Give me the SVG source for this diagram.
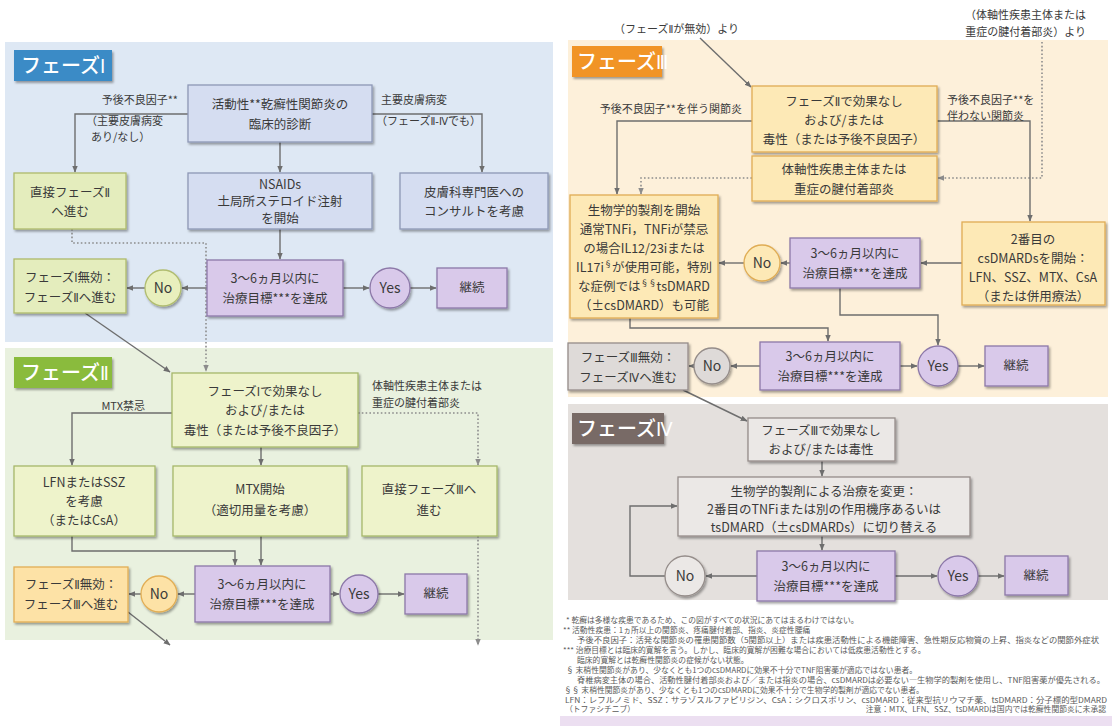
<svg xmlns="http://www.w3.org/2000/svg" width="1112" height="726" viewBox="0 0 1112 726">
<defs>
<style>
text{font-family:"Noto Sans CJK JP","Noto Sans CJK SC",sans-serif;}
.r{font-family:"DejaVu Sans Condensed","DejaVu Sans","Noto Sans CJK JP",sans-serif;}
.bt{font-size:12.5px;fill:#3a3a3a;text-anchor:middle;}
.ct{font-size:14px;fill:#3a3a3a;text-anchor:middle;}
.lb{font-size:11px;fill:#3a3a3a;}
.tab{font-size:20px;fill:#fff;font-weight:500;}
.fn{font-size:7.8px;fill:#5a5a5a;}
.ln{fill:none;stroke:#6e6e6e;stroke-width:1.4;}
.dt{fill:none;stroke:#8c8c8c;stroke-width:1.6;stroke-dasharray:1.6 2.2;}
.bx{stroke-width:1.3;filter:url(#sh);}
.bl{fill:#d5ddf1;stroke:#8e98b6;}
.gr{fill:#e4edbd;stroke:#aebb6c;}
.g2{fill:#eef3cb;stroke:#a7b86a;}
.pu{fill:#d9c9ea;stroke:#8c78a8;}
.or{fill:#fde2a6;stroke:#e2ae55;}
.yl{fill:#fde9b6;stroke:#e0ad55;}
.gy{fill:#dedad8;stroke:#958d8a;}
.g4{fill:#ebe8e6;stroke:#958d8a;}
</style>
<filter id="sh" x="-10%" y="-10%" width="130%" height="140%">
<feDropShadow dx="1.5" dy="2" stdDeviation="1.2" flood-color="#000" flood-opacity="0.35"/>
</filter>
<marker id="a" viewBox="0 0 10 10" refX="9" refY="5" markerWidth="7" markerHeight="7" markerUnits="userSpaceOnUse" orient="auto"><path d="M0,1 L10,5 L0,9 z" fill="#6e6e6e"/></marker>
<marker id="d" viewBox="0 0 10 10" refX="9" refY="5" markerWidth="7" markerHeight="7" markerUnits="userSpaceOnUse" orient="auto"><path d="M0,1 L10,5 L0,9 z" fill="#8c8c8c"/></marker>
</defs>
<rect width="1112" height="726" fill="#ffffff"/>

<!-- panels -->
<g id="panels">
<rect x="5" y="42" width="548" height="300" fill="#dee8f4"/>
<rect x="5" y="348" width="548" height="292" fill="#e9f1df"/>
<rect x="568" y="40" width="540" height="357" fill="#fdf0da"/>
<rect x="568" y="404" width="540" height="196" fill="#e4e0dd"/>
<rect x="560" y="716" width="552" height="10" fill="#ecdff1"/>
</g>

<g id="tabs">
<rect x="14" y="50" width="98" height="31" fill="#3b8bc6" filter="url(#sh)"/>
<text class="tab" x="21" y="73">フェーズ<tspan class="r">Ⅰ</tspan></text>
<rect x="14" y="357" width="98" height="31" fill="#8abb3c" filter="url(#sh)"/>
<text class="tab" x="21" y="380">フェーズ<tspan class="r">Ⅱ</tspan></text>
<rect x="572" y="46" width="90" height="31" fill="#f19428" filter="url(#sh)"/>
<text class="tab" x="577" y="69">フェーズ<tspan class="r">Ⅲ</tspan></text>
<rect x="572" y="413" width="92" height="31" fill="#786a66" filter="url(#sh)"/>
<text class="tab" x="577" y="436">フェーズ<tspan class="r">Ⅳ</tspan></text>
</g>

<!-- connectors -->
<g id="connectors">
<path class="ln" d="M188,114 H75 V172" marker-end="url(#a)"/>
<path class="ln" d="M372,114 H482 V172" marker-end="url(#a)"/>
<path class="ln" d="M280,142 V172" marker-end="url(#a)"/>
<path class="dt" d="M72,229 V243 H206 V371" marker-end="url(#d)"/>
<path class="ln" d="M280,229 V259" marker-end="url(#a)"/>
<path class="ln" d="M207,288 H182" marker-end="url(#a)"/>
<path class="ln" d="M145,288 H127" marker-end="url(#a)"/>
<path class="ln" d="M343,288 H369" marker-end="url(#a)"/>
<path class="ln" d="M410,288 H436" marker-end="url(#a)"/>
<path class="ln" d="M85,313 L170,372" marker-end="url(#a)"/>

<path class="ln" d="M172,413 H72 V465" marker-end="url(#a)"/>
<path class="dt" d="M358,413 H478 V465" marker-end="url(#d)"/>
<path class="ln" d="M261,447 V465" marker-end="url(#a)"/>
<path class="ln" d="M72,536 V551 H235 V565" marker-end="url(#a)"/>
<path class="ln" d="M261,536 V565" marker-end="url(#a)"/>
<path class="ln" d="M195,594 H178" marker-end="url(#a)"/>
<path class="ln" d="M141,594 H129" marker-end="url(#a)"/>
<path class="ln" d="M330,594 H339" marker-end="url(#a)"/>
<path class="ln" d="M378,594 H404" marker-end="url(#a)"/>
<path class="dt" d="M478,536 V645" marker-end="url(#d)"/>
<path class="ln" d="M128,612 L170,645" marker-end="url(#a)"/>

<path class="ln" d="M700,38 L751,87" marker-end="url(#a)"/>
<path class="dt" d="M1042,42 V178 H938" marker-end="url(#d)"/>
<path class="ln" d="M752,121 H617 V194" marker-end="url(#a)"/>
<path class="ln" d="M937,121 H1030 V221" marker-end="url(#a)"/>
<path class="dt" d="M752,178 H641 V194" marker-end="url(#d)"/>
<path class="ln" d="M962,263 H921" marker-end="url(#a)"/>
<path class="ln" d="M790,263 H781" marker-end="url(#a)"/>
<path class="ln" d="M744,263 H719" marker-end="url(#a)"/>
<path class="ln" d="M630,318 V328 H828 V341" marker-end="url(#a)"/>
<path class="ln" d="M840,288 V315 H938 V345" marker-end="url(#a)"/>
<path class="ln" d="M760,366 H731" marker-end="url(#a)"/>
<path class="ln" d="M694,366 H689" marker-end="url(#a)"/>
<path class="ln" d="M900,366 H917" marker-end="url(#a)"/>
<path class="ln" d="M958,366 H984" marker-end="url(#a)"/>

<path class="ln" d="M683,390 L747,421" marker-end="url(#a)"/>
<path class="ln" d="M822,461 V476" marker-end="url(#a)"/>
<path class="ln" d="M822,536 V550" marker-end="url(#a)"/>
<path class="ln" d="M757,576 H706" marker-end="url(#a)"/>
<path class="ln" d="M895,576 H937" marker-end="url(#a)"/>
<path class="ln" d="M978,576 H1004" marker-end="url(#a)"/>
<path class="ln" d="M665,576 H630 V506 H677" marker-end="url(#a)"/>
</g>

<!-- edge labels -->
<g id="labels">
<text class="lb" x="178" y="104" text-anchor="end">予後不良因子**</text>
<text class="lb" x="86" y="125">（主要皮膚病変</text>
<text class="lb" x="91" y="141">あり/なし）</text>
<text class="lb" x="381" y="104">主要皮膚病変</text>
<text class="lb" x="376" y="125">（フェーズ<tspan class="r">Ⅱ-Ⅳ</tspan>でも）</text>
<text class="lb" x="145" y="410" text-anchor="end">MTX禁忌</text>
<text class="lb" x="372" y="390">体軸性疾患主体または</text>
<text class="lb" x="372" y="407">重症の腱付着部炎</text>
<text class="lb" x="614" y="33">（フェーズ<tspan class="r">Ⅱ</tspan>が無効）より</text>
<text class="lb" x="1086" y="19" text-anchor="end">（体軸性疾患主体または</text>
<text class="lb" x="1086" y="36" text-anchor="end">重症の腱付着部炎）より</text>
<text class="lb" x="742" y="113" text-anchor="end">予後不良因子**を伴う関節炎</text>
<text class="lb" x="947" y="104">予後不良因子**を</text>
<text class="lb" x="947" y="120">伴わない関節炎</text>
</g>

<!-- Phase I nodes -->
<g id="p1-diag"><rect class="bx bl" x="188" y="85" width="184" height="57"/>
<text class="bt" x="280" y="109">活動性**乾癬性関節炎の</text><text class="bt" x="280" y="129">臨床的診断</text></g>
<g id="p1-direct"><rect class="bx gr" x="14" y="173" width="112" height="56"/>
<text class="bt" x="70" y="197">直接フェーズ<tspan class="r">Ⅱ</tspan></text><text class="bt" x="70" y="216">へ進む</text></g>
<g id="p1-nsaid"><rect class="bx bl" x="188" y="173" width="184" height="56"/>
<text class="bt" x="280" y="189">NSAIDs</text><text class="bt" x="280" y="206">土局所ステロイド注射</text><text class="bt" x="280" y="223">を開始</text></g>
<g id="p1-derm"><rect class="bx bl" x="400" y="173" width="148" height="56"/>
<text class="bt" x="474" y="197">皮膚科専門医への</text><text class="bt" x="474" y="216">コンサルトを考慮</text></g>
<g id="p1-fail"><rect class="bx gr" x="14" y="259" width="112" height="54"/>
<text class="bt" x="70" y="282">フェーズ<tspan class="r">Ⅰ</tspan>無効：</text><text class="bt" x="70" y="302">フェーズ<tspan class="r">Ⅱ</tspan>へ進む</text></g>
<g id="p1-no"><circle class="bx" cx="163" cy="288" r="18" fill="#e8efbd" stroke="#b1bd70"/><text class="ct" x="163" y="293">No</text></g>
<g id="p1-target"><rect class="bx pu" x="207" y="260" width="136" height="56"/>
<text class="bt" x="275" y="283">3〜6ヵ月以内に</text><text class="bt" x="275" y="303">治療目標***を達成</text></g>
<g id="p1-yes"><circle class="bx pu" cx="390" cy="288" r="20"/><text class="ct" x="390" y="293">Yes</text></g>
<g id="p1-cont"><rect class="bx pu" x="437" y="268" width="70" height="40"/><text class="bt" x="472" y="292">継続</text></g>

<!-- Phase II nodes -->
<g id="p2-start"><rect class="bx g2" x="172" y="373" width="186" height="74"/>
<text class="bt" x="265" y="396">フェーズ<tspan class="r">Ⅰ</tspan>で効果なし</text><text class="bt" x="265" y="415">および/または</text><text class="bt" x="265" y="435">毒性（または予後不良因子）</text></g>
<g id="p2-lfn"><rect class="bx g2" x="14" y="466" width="141" height="70"/>
<text class="bt" x="84" y="487">LFNまたはSSZ</text><text class="bt" x="84" y="506">を考慮</text><text class="bt" x="84" y="525">（またはCsA）</text></g>
<g id="p2-mtx"><rect class="bx g2" x="173" y="466" width="174" height="70"/>
<text class="bt" x="260" y="494">MTX開始</text><text class="bt" x="260" y="515">（適切用量を考慮）</text></g>
<g id="p2-direct"><rect class="bx g2" x="362" y="466" width="135" height="70"/>
<text class="bt" x="429" y="494">直接フェーズ<tspan class="r">Ⅲ</tspan>へ</text><text class="bt" x="429" y="515">進む</text></g>
<g id="p2-fail"><rect class="bx or" x="14" y="567" width="114" height="55"/>
<text class="bt" x="71" y="589">フェーズ<tspan class="r">Ⅱ</tspan>無効：</text><text class="bt" x="71" y="609">フェーズ<tspan class="r">Ⅲ</tspan>へ進む</text></g>
<g id="p2-no"><circle class="bx or" cx="159" cy="594" r="18"/><text class="ct" x="159" y="599">No</text></g>
<g id="p2-target"><rect class="bx pu" x="195" y="566" width="135" height="56"/>
<text class="bt" x="262" y="589">3〜6ヵ月以内に</text><text class="bt" x="262" y="609">治療目標***を達成</text></g>
<g id="p2-yes"><circle class="bx pu" cx="359" cy="594" r="19"/><text class="ct" x="359" y="599">Yes</text></g>
<g id="p2-cont"><rect class="bx pu" x="405" y="574" width="62" height="40"/><text class="bt" x="436" y="598">継続</text></g>

<!-- Phase III nodes -->
<g id="p3-start"><rect class="bx yl" x="752" y="86" width="185" height="66"/>
<text class="bt" x="844" y="106">フェーズ<tspan class="r">Ⅱ</tspan>で効果なし</text><text class="bt" x="844" y="125">および/または</text><text class="bt" x="844" y="144">毒性（または予後不良因子）</text></g>
<g id="p3-axial"><rect class="bx yl" x="752" y="156" width="185" height="45"/>
<text class="bt" x="844" y="174">体軸性疾患主体または</text><text class="bt" x="844" y="194">重症の腱付着部炎</text></g>
<g id="p3-bio"><rect class="bx yl" x="570" y="195" width="148" height="123"/>
<text class="bt" x="644" y="215">生物学的製剤を開始</text>
<text class="bt" x="644" y="234">通常TNFi，TNFiが禁忌</text>
<text class="bt" x="644" y="253">の場合IL12/23iまたは</text>
<text class="bt" x="644" y="272">IL17i<tspan font-size="8" dy="-5">§</tspan><tspan dy="5">が使用可能，特別</tspan></text>
<text class="bt" x="644" y="291">な症例では<tspan font-size="8" dy="-5">§§</tspan><tspan dy="5">tsDMARD</tspan></text>
<text class="bt" x="644" y="310">（±csDMARD）も可能</text></g>
<g id="p3-csdmard"><rect class="bx yl" x="962" y="222" width="143" height="83"/>
<text class="bt" x="1033" y="244">2番目の</text><text class="bt" x="1033" y="263">csDMARDsを開始：</text><text class="bt" x="1033" y="282">LFN、SSZ、MTX、CsA</text><text class="bt" x="1033" y="301">（または併用療法）</text></g>
<g id="p3-target1"><rect class="bx pu" x="790" y="238" width="130" height="50"/>
<text class="bt" x="855" y="258">3〜6ヵ月以内に</text><text class="bt" x="855" y="278">治療目標***を達成</text></g>
<g id="p3-no1"><circle class="bx yl" cx="762" cy="263" r="18"/><text class="ct" x="762" y="268">No</text></g>
<g id="p3-fail"><rect class="bx gy" x="568" y="343" width="120" height="47"/>
<text class="bt" x="628" y="362">フェーズ<tspan class="r">Ⅲ</tspan>無効：</text><text class="bt" x="628" y="382">フェーズ<tspan class="r">Ⅳ</tspan>へ進む</text></g>
<g id="p3-no2"><circle class="bx gy" cx="712" cy="366" r="18"/><text class="ct" x="712" y="371">No</text></g>
<g id="p3-target2"><rect class="bx pu" x="760" y="342" width="140" height="48"/>
<text class="bt" x="830" y="361">3〜6ヵ月以内に</text><text class="bt" x="830" y="381">治療目標***を達成</text></g>
<g id="p3-yes"><circle class="bx pu" cx="938" cy="366" r="20"/><text class="ct" x="938" y="371">Yes</text></g>
<g id="p3-cont"><rect class="bx pu" x="985" y="346" width="63" height="40"/><text class="bt" x="1016" y="370">継続</text></g>

<!-- Phase IV nodes -->
<g id="p4-start"><rect class="bx g4" x="748" y="418" width="147" height="43"/>
<text class="bt" x="821" y="435">フェーズ<tspan class="r">Ⅲ</tspan>で効果なし</text><text class="bt" x="821" y="454">および/または毒性</text></g>
<g id="p4-switch"><rect class="bx g4" x="678" y="477" width="292" height="59"/>
<text class="bt" x="824" y="496">生物学的製剤による治療を変更：</text><text class="bt" x="824" y="514">2番目のTNFiまたは別の作用機序あるいは</text><text class="bt" x="824" y="532">tsDMARD（±csDMARDs）に切り替える</text></g>
<g id="p4-target"><rect class="bx pu" x="757" y="551" width="138" height="50"/>
<text class="bt" x="826" y="571">3〜6ヵ月以内に</text><text class="bt" x="826" y="591">治療目標***を達成</text></g>
<g id="p4-no"><circle class="bx g4" cx="685" cy="576" r="20"/><text class="ct" x="685" y="581">No</text></g>
<g id="p4-yes"><circle class="bx pu" cx="958" cy="576" r="20"/><text class="ct" x="958" y="581">Yes</text></g>
<g id="p4-cont"><rect class="bx pu" x="1005" y="556" width="63" height="39"/><text class="bt" x="1036" y="580">継続</text></g>

<!-- footnotes -->
<g id="footnotes">
<text class="fn" x="566" y="623">* 乾癬は多様な疾患であるため、この図がすべての状況にあてはまるわけではない。</text>
<text class="fn" x="563" y="633">** 活動性疾患：1ヵ所以上の関節炎、疼痛腱付着部、指炎、炎症性腰痛</text>
<text class="fn" x="577" y="643" textLength="522" lengthAdjust="spacingAndGlyphs">予後不良因子：活発な関節炎の罹患関節数（5関節以上）または疾患活動性による機能障害、急性期反応物質の上昇、指炎などの関節外症状</text>
<text class="fn" x="563" y="653">*** 治療目標とは臨床的寛解を言う。しかし、臨床的寛解が困難な場合においては低疾患活動性とする。</text>
<text class="fn" x="577" y="663">臨床的寛解とは乾癬性関節炎の症候がない状態。</text>
<text class="fn" x="566" y="673">§ 末梢性関節炎があり、少なくとも1つのcsDMARDに効果不十分でTNF阻害薬が適応ではない患者。</text>
<text class="fn" x="577" y="683" textLength="528" lengthAdjust="spacingAndGlyphs">脊椎病変主体の場合、活動性腱付着部炎および／または指炎の場合、csDMARDは必要ない―生物学的製剤を使用し、TNF阻害薬が優先される。</text>
<text class="fn" x="564" y="693">§§ 末梢性関節炎があり、少なくとも1つのcsDMARDに効果不十分で生物学的製剤が適応でない患者。</text>
<text class="fn" x="565" y="703" textLength="542" lengthAdjust="spacingAndGlyphs">LFN：レフルノミド、SSZ：サラゾスルファピリジン、CsA：シクロスポリン、csDMARD：従来型抗リウマチ薬、tsDMARD：分子標的型DMARD</text>
<text class="fn" x="565" y="712">（トファシチニブ）</text>
<text class="fn" x="1106" y="712" text-anchor="end">注意：MTX、LFN、SSZ、tsDMARDは国内では乾癬性関節炎に未承認</text>
</g>
</svg>
